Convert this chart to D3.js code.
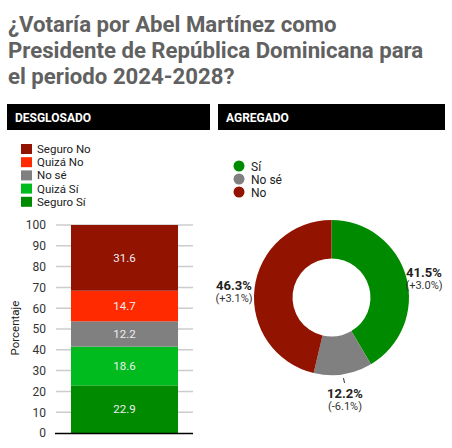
<!DOCTYPE html>
<html><head><meta charset="utf-8">
<script src="https://cdn.jsdelivr.net/npm/d3@7"></script>
<style>
body{margin:0;background:#fff;font-family:Roboto,"Noto Sans",sans-serif;}
</style></head>
<body>
<svg id="c" width="452" height="448"></svg>
<script>
const titleLines = ["¿Votaría por Abel Martínez como","Presidente de República Dominicana para","el periodo 2024-2028?"];
const panelTitles = ["DESGLOSADO","AGREGADO"];
const barCategories = ["Seguro Sí","Quizá Sí","No sé","Quizá No","Seguro No"];
const barValues = [22.9, 18.6, 12.2, 14.7, 31.6];
const barColors = ["#008a00","#00bb1e","#808080","#ff2a00","#921300"];
const yTicks = [0,10,20,30,40,50,60,70,80,90,100];
const pieCategories = ["Sí","No sé","No"];
const pieValues = [41.5, 12.2, 46.3];
const pieChanges = ["(+3.0%)","(-6.1%)","(+3.1%)"];
const pieColors = ["#008a00","#808080","#921300"];

const svg = d3.select("#c");

// Title
svg.append("text").attr("x",8).attr("y",32)
  .attr("font-size",22.2).attr("font-weight",700).attr("fill","#616161")
  .selectAll("tspan").data(titleLines).join("tspan")
  .attr("x",8).attr("dy",(d,i)=>i?26:0).text(d=>d);

// Panel headers
const headers = [{x:7,w:203},{x:218,w:227}];
headers.forEach((h,i)=>{
  svg.append("rect").attr("x",h.x).attr("y",104).attr("width",h.w).attr("height",26).attr("fill","#000");
  svg.append("text").attr("x",h.x+8).attr("y",122).attr("fill","#fff")
    .attr("font-size",12).attr("font-weight",700).text(panelTitles[i]);
});

// Left legend (reverse order)
const legOrder = d3.range(barCategories.length).reverse();
const lg = svg.append("g");
legOrder.forEach((idx,j)=>{
  lg.append("rect").attr("x",21).attr("y",144+j*13.2).attr("width",11).attr("height",10).attr("fill",barColors[idx]);
  lg.append("text").attr("x",37).attr("y",153+j*13.2).attr("font-size",11.5).attr("fill","#222")
    .text(barCategories[idx]);
});

// Bar chart
const y = d3.scaleLinear().domain([0,100]).range([433,225]);
const x = d3.scaleBand().domain(["all"]).range([56,193]).paddingInner(0).paddingOuter(0.14);
const bg = svg.append("g");
bg.selectAll("line.grid").data(yTicks.filter(t=>t>0)).join("line")
  .attr("x1",56).attr("x2",193).attr("y1",d=>y(d)).attr("y2",d=>y(d))
  .attr("stroke","#cccccc").attr("stroke-width",1.5);
const yAxis = bg.append("g").attr("transform","translate(56,0)")
  .call(d3.axisLeft(y).tickValues(yTicks).tickSize(0).tickPadding(10));
yAxis.select(".domain").remove();
yAxis.selectAll("text").attr("font-size",12).attr("fill","#333").attr("font-family","Roboto,sans-serif");

let cum = 0;
const stacked = barValues.map((v,i)=>{const s={v,i,y0:cum,y1:cum+v}; cum+=v; return s;});
bg.selectAll("rect.bar").data(stacked).join("rect")
  .attr("x",x("all")).attr("width",x.bandwidth())
  .attr("y",d=>y(d.y1)).attr("height",d=>y(d.y0)-y(d.y1))
  .attr("fill",d=>barColors[d.i]);
bg.selectAll("text.lbl").data(stacked).join("text")
  .attr("x",x("all")+x.bandwidth()/2).attr("y",d=>y((d.y0+d.y1)/2)+4)
  .attr("text-anchor","middle").attr("font-size",11.5).attr("fill","#eeeeee")
  .text(d=>d.v.toFixed(1));
bg.append("line").attr("x1",55).attr("x2",193).attr("y1",433.5).attr("y2",433.5)
  .attr("stroke","#000").attr("stroke-width",1.5);
bg.append("text").attr("transform","translate(19,328) rotate(-90)")
  .attr("text-anchor","middle").attr("font-size",11.5).attr("fill","#222").text("Porcentaje");

// Right legend
pieCategories.forEach((c,i)=>{
  svg.append("circle").attr("cx",239).attr("cy",166+i*13).attr("r",5.5).attr("fill",pieColors[i]);
  svg.append("text").attr("x",251).attr("y",170.5+i*13).attr("font-size",12).attr("fill","#222").text(c);
});

// Donut
const cx=331.5, cy=297.5, rO=77.5, rI=39;
const pie = d3.pie().sort(null).value(d=>d);
const arcs = pie(pieValues);
const arc = d3.arc().innerRadius(rI).outerRadius(rO);
const pg = svg.append("g").attr("transform",`translate(${cx},${cy})`);
pg.selectAll("path").data(arcs).join("path").attr("d",arc).attr("fill",(d,i)=>pieColors[i]);

// Labels
const labelPos = [
  {x:424, y:277, anchor:"middle"},
  {x:345, y:398, anchor:"middle"},
  {x:234, y:290, anchor:"middle"}
];
arcs.forEach((a,i)=>{
  const p = labelPos[i];
  svg.append("text").attr("x",p.x).attr("y",p.y).attr("text-anchor",p.anchor)
    .attr("font-size",13).attr("font-weight",700).attr("fill","#222")
    .text(pieValues[i].toFixed(1)+"%");
  svg.append("text").attr("x",p.x).attr("y",p.y+12).attr("text-anchor",p.anchor)
    .attr("font-size",11).attr("fill","#333").text(pieChanges[i]);
});
// small leader for the middle slice
svg.append("line").attr("x1",343.5).attr("y1",378).attr("x2",344.5).attr("y2",383)
  .attr("stroke","#333").attr("stroke-width",1);
</script>
</body></html>
